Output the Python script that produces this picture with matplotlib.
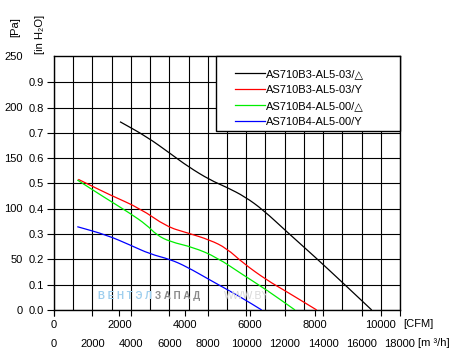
import numpy as np
import matplotlib
matplotlib.use("Agg")
import matplotlib.pyplot as plt
from matplotlib.path import Path
from matplotlib.patches import PathPatch, Rectangle

plt.rcParams['font.family'] = ['Liberation Sans', 'DejaVu Sans']
plt.rcParams['font.size'] = 8

# flow in m3/h, pressure in Pa
b3_tri_q = [3434, 4823, 6035, 6987, 8116, 8984, 9936, 10888, 12106, 13578, 15050, 16528]
b3_tri_p = [185.3, 170.6, 154.2, 141.0, 128.0, 120.8, 111.5, 98.4, 77.1, 52.2, 26.3, 0]
b3_y_q = [1264, 2913, 4474, 5863, 6903, 8116, 8984, 9848, 11065, 12106, 13667]
b3_y_p = [128.6, 113.2, 100.1, 82.0, 76.1, 68.9, 60.7, 46.0, 29.5, 18.0, 0]
b4_tri_q = [1212, 2565, 3954, 4823, 5343, 6035, 7247, 8464, 9848, 11065, 12538]
b4_tri_p = [128.0, 111.5, 95.2, 83.7, 73.8, 67.2, 61.7, 51.9, 34.4, 19.7, 0]
b4_y_q = [1212, 2742, 3954, 4994, 6035, 6903, 8116, 9676, 10805]
b4_y_p = [82.0, 73.8, 64.0, 55.1, 49.9, 42.6, 29.5, 13.1, 0]

labels = ["AS710B3-AL5-03/\u25b3", "AS710B3-AL5-03/Y", "AS710B4-AL5-00/\u25b3", "AS710B4-AL5-00/Y"]
colors = ["#000000", "#ff0000", "#00ee00", "#0000ff"]

PA_PER_INH2O = 249.089
M3H_PER_CFM = 1.69901

W, H = 457, 356
fig = plt.figure(figsize=(W/100, H/100), dpi=100)
ax = fig.add_axes([54/W, 1-310/H, 346/W, 254/H])


def smooth_path(q, p):
    # quadratic curves through midpoints, so the read points are drawn as a soft curve
    pts = np.column_stack([q, p]).astype(float)
    verts = [pts[0], (pts[0] + pts[1]) / 2]
    codes = [Path.MOVETO, Path.LINETO]
    for i in range(1, len(pts) - 1):
        verts += [pts[i], (pts[i] + pts[i + 1]) / 2]
        codes += [Path.CURVE3, Path.CURVE3]
    verts.append(pts[-1])
    codes.append(Path.LINETO)
    return Path(verts, codes)


series = [(b3_tri_q, b3_tri_p), (b3_y_q, b3_y_p), (b4_tri_q, b4_tri_p), (b4_y_q, b4_y_p)]
handles = []
for (q, p), c, lab in zip(series, colors, labels):
    ax.add_patch(PathPatch(smooth_path(q, p), facecolor='none', edgecolor=c, lw=0.9, zorder=3))
    h, = ax.plot([], [], color=c, lw=0.9, label=lab)
    handles.append(h)

ax.set_xlim(0, 18000)
ax.set_ylim(0, 250)

# x: m3/h row
ax.set_xticks(np.arange(0, 18001, 2000))
ax.set_xticks(np.arange(0, 18001, 1000), minor=True)
ax.tick_params(axis='x', which='major', direction='out', length=4, width=0.8, pad=17, labelsize=8)
ax.tick_params(axis='x', which='minor', length=0)

# y: in H2O on the axis
inh = np.arange(0, 1.0, 0.1)
ax.set_yticks(inh * PA_PER_INH2O)
ax.set_yticklabels([f"{v:.1f}" for v in inh])
ax.tick_params(axis='y', direction='out', length=5, width=0.8, pad=2, labelsize=8)

ax.grid(True, which='both', axis='x', color='black', lw=0.8)
ax.grid(True, which='major', axis='y', color='black', lw=0.8)
for s in ax.spines.values():
    s.set_linewidth(1.0)

# CFM row
cfm = ax.secondary_xaxis('bottom', functions=(lambda x: x / M3H_PER_CFM, lambda c: c * M3H_PER_CFM))
cfm.set_xticks(np.arange(0, 10001, 2000))
cfm.tick_params(direction='out', length=4, width=0.8, pad=3, labelsize=8)
cfm.spines['bottom'].set_visible(False)

# Pa column
pa = ax.secondary_yaxis((23-54)/346)
pa.set_yticks(np.arange(0, 251, 50))
pa.tick_params(length=0, pad=0, labelsize=8)
pa.spines['left'].set_visible(False)

# legend: white box plus frameless legend inside it
ax.add_patch(Rectangle(((216-54)/346, (310-131)/254), 184/346, 75/254, transform=ax.transAxes,
                       facecolor='white', edgecolor='black', lw=1.0, zorder=4, clip_on=False))
leg = ax.legend(handles=handles, loc='upper left', bbox_to_anchor=((235-54)/346, (310-69)/254),
                borderaxespad=0, borderpad=0, frameon=False,
                handlelength=2.7, handletextpad=0.1, labelspacing=0.55, fontsize=8)
leg.set_zorder(5)

# unit labels
fig.text(403/W, 1-324/H, "[CFM]", ha='left', va='center', fontsize=8)
fig.text(418/W, 1-343/H, "[m \u00b3/h]", ha='left', va='center', fontsize=8)
fig.text(15/W, 1-27/H, "[Pa]", rotation=90, ha='center', va='center', fontsize=8)
fig.text(40/W, 1-34/H, "[in H\u2082O]", rotation=90, ha='center', va='center', fontsize=8)

# watermark
fig.text(152/W, 1-296/H, "В Е Н Т Э Л", color='#9fcfee', fontsize=7, fontweight='bold', va='center', ha='right')
fig.text(155/W, 1-296/H, "З А П А Д", color='#8a8a8a', fontsize=7, fontweight='bold', va='center', ha='left')
fig.text(224/W, 1-296/H, "WWW.BY", color='#d8d8d8', fontsize=7.5, va='center')

fig.savefig("out.png", dpi=100)
